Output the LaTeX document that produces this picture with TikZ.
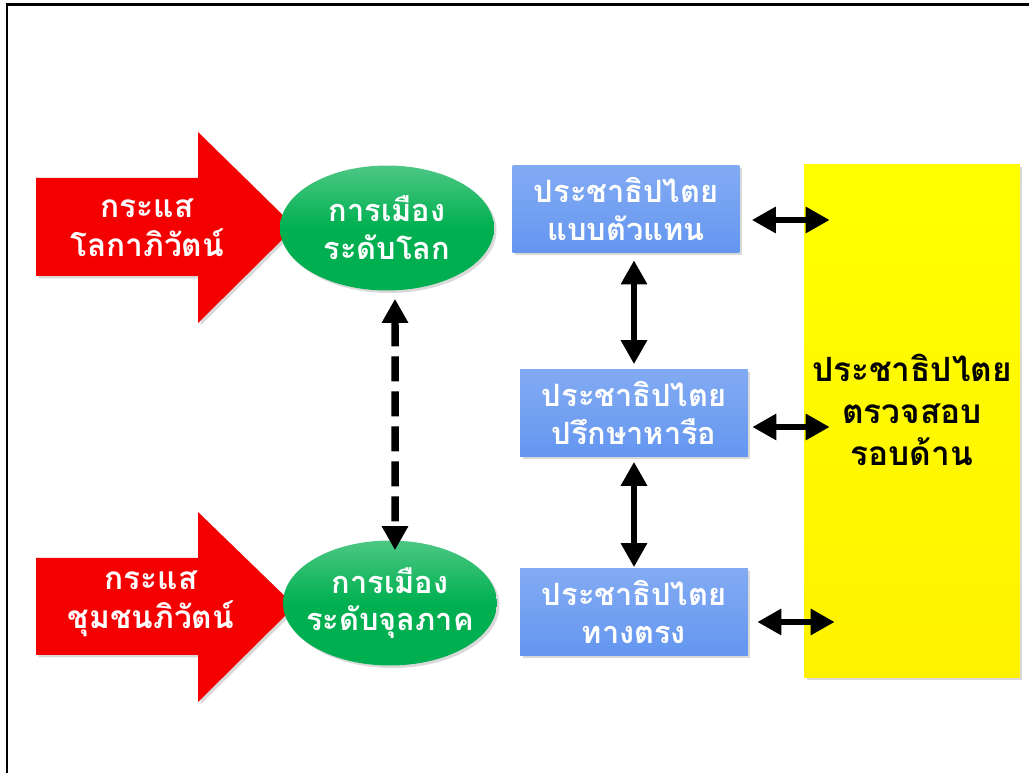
\documentclass[tikz,border=0pt]{standalone}
\usepackage{fontspec}
\newfontfamily\thaifont[Script=Thai]{Loma}
\usetikzlibrary{shapes.geometric,arrows.meta,shadows}

\definecolor{flowred}{RGB}{245,0,0}
\definecolor{polgreen}{RGB}{0,176,80}
\definecolor{demoblue}{RGB}{100,150,240}
\definecolor{checkyellow}{RGB}{255,255,0}

\tikzset{
  softshadow/.style={drop shadow={opacity=0.3,shadow xshift=0.05cm,shadow yshift=-0.05cm}},
  thaitext/.style={font=\thaifont\bfseries\fontsize{17.5}{21.5}\selectfont,align=center},
  flowarrow/.style={fill=flowred,softshadow},
  politics/.style={ellipse,top color=polgreen!70!white,bottom color=polgreen,middle color=polgreen,
    minimum width=4.28cm,minimum height=2.5cm,inner xsep=-0.7cm,inner ysep=-0.3cm,softshadow,text=white,thaitext},
  demo/.style={rectangle,top color=demoblue!80!white,bottom color=demoblue,
    minimum width=4.56cm,minimum height=1.74cm,inner sep=0pt,softshadow,text=white,thaitext},
  link/.style={line width=0.13cm,{Triangle[width=0.5cm,length=0.48cm]}-{Triangle[width=0.5cm,length=0.48cm]}}
}

\begin{document}
\begin{tikzpicture}[x=0.02cm,y=-0.02cm]
\useasboundingbox (0,0) rectangle (1029,773);
\draw[line width=0.06cm] (7,773) -- (7,5) -- (1029,5);

% red flows
\fill[flowarrow] (36,178) -- (198,178) -- (198,132) -- (295,227) -- (198,323) -- (198,276) -- (36,276) -- cycle;
\node[thaitext,text=white,font=\thaifont\bfseries\fontsize{18}{22}\selectfont] (globflow) at (147,228) {กระแส\\โลกาภิวัตน์};
\fill[flowarrow] (36,558) -- (198,558) -- (198,512) -- (295,606) -- (198,702) -- (198,655) -- (36,655) -- cycle;
\node[thaitext,text=white,font=\thaifont\bfseries\fontsize{18}{22}\selectfont] (commflow) at (151,604) {กระแส\\ชุมชนภิวัตน์};

% politics levels
\node[politics] (glob) at (387,228) {การเมือง\\ระดับโลก};
\node[politics] (loc) at (390,603) {การเมือง\\ระดับจุลภาค};
\draw[link,dash pattern=on 0.5cm off 0.2cm,line width=0.15cm]
  ([xshift=0.16cm,yshift=-0.16cm]glob.south) -- ([xshift=0.1cm,yshift=-0.2cm]loc.north);

% democracy types
\node[demo,minimum width=4.54cm,minimum height=1.76cm] (rep) at (626,209) {ประชาธิปไตย\\แบบตัวแทน};
\node[demo] (delib) at (634,413) {ประชาธิปไตย\\ปรึกษาหารือ};
\node[demo] (direct) at (634,612) {ประชาธิปไตย\\ทางตรง};
\node[rectangle,top color=checkyellow,bottom color=checkyellow!90!orange,softshadow,
  minimum width=4.32cm,minimum height=10.26cm] (check) at (912,421) {};
\node[thaitext,font=\thaifont\bfseries\fontsize{19}{24}\selectfont] (checktxt) at ([yshift=0.22cm]check.center)
  {ประชาธิปไตย\\ตรวจสอบ\\รอบด้าน};

\draw[link] ([yshift=-0.14cm]rep.south -| delib.north) -- ([yshift=0.1cm]delib.north);
\draw[link] ([yshift=-0.1cm]delib.south) -- ([yshift=0.02cm]direct.north);
\draw[link] ([xshift=0.24cm,yshift=-0.22cm]rep.east) -- ([xshift=0.52cm,yshift=-0.22cm]rep.east -| check.west);
\draw[link] ([xshift=0.08cm,yshift=-0.28cm]delib.east) -- ([xshift=0.52cm,yshift=-0.28cm]delib.east -| check.west);
\draw[link] ([xshift=0.18cm,yshift=-0.2cm]direct.east) -- ([xshift=0.62cm,yshift=-0.2cm]direct.east -| check.west);
\end{tikzpicture}
\end{document}
